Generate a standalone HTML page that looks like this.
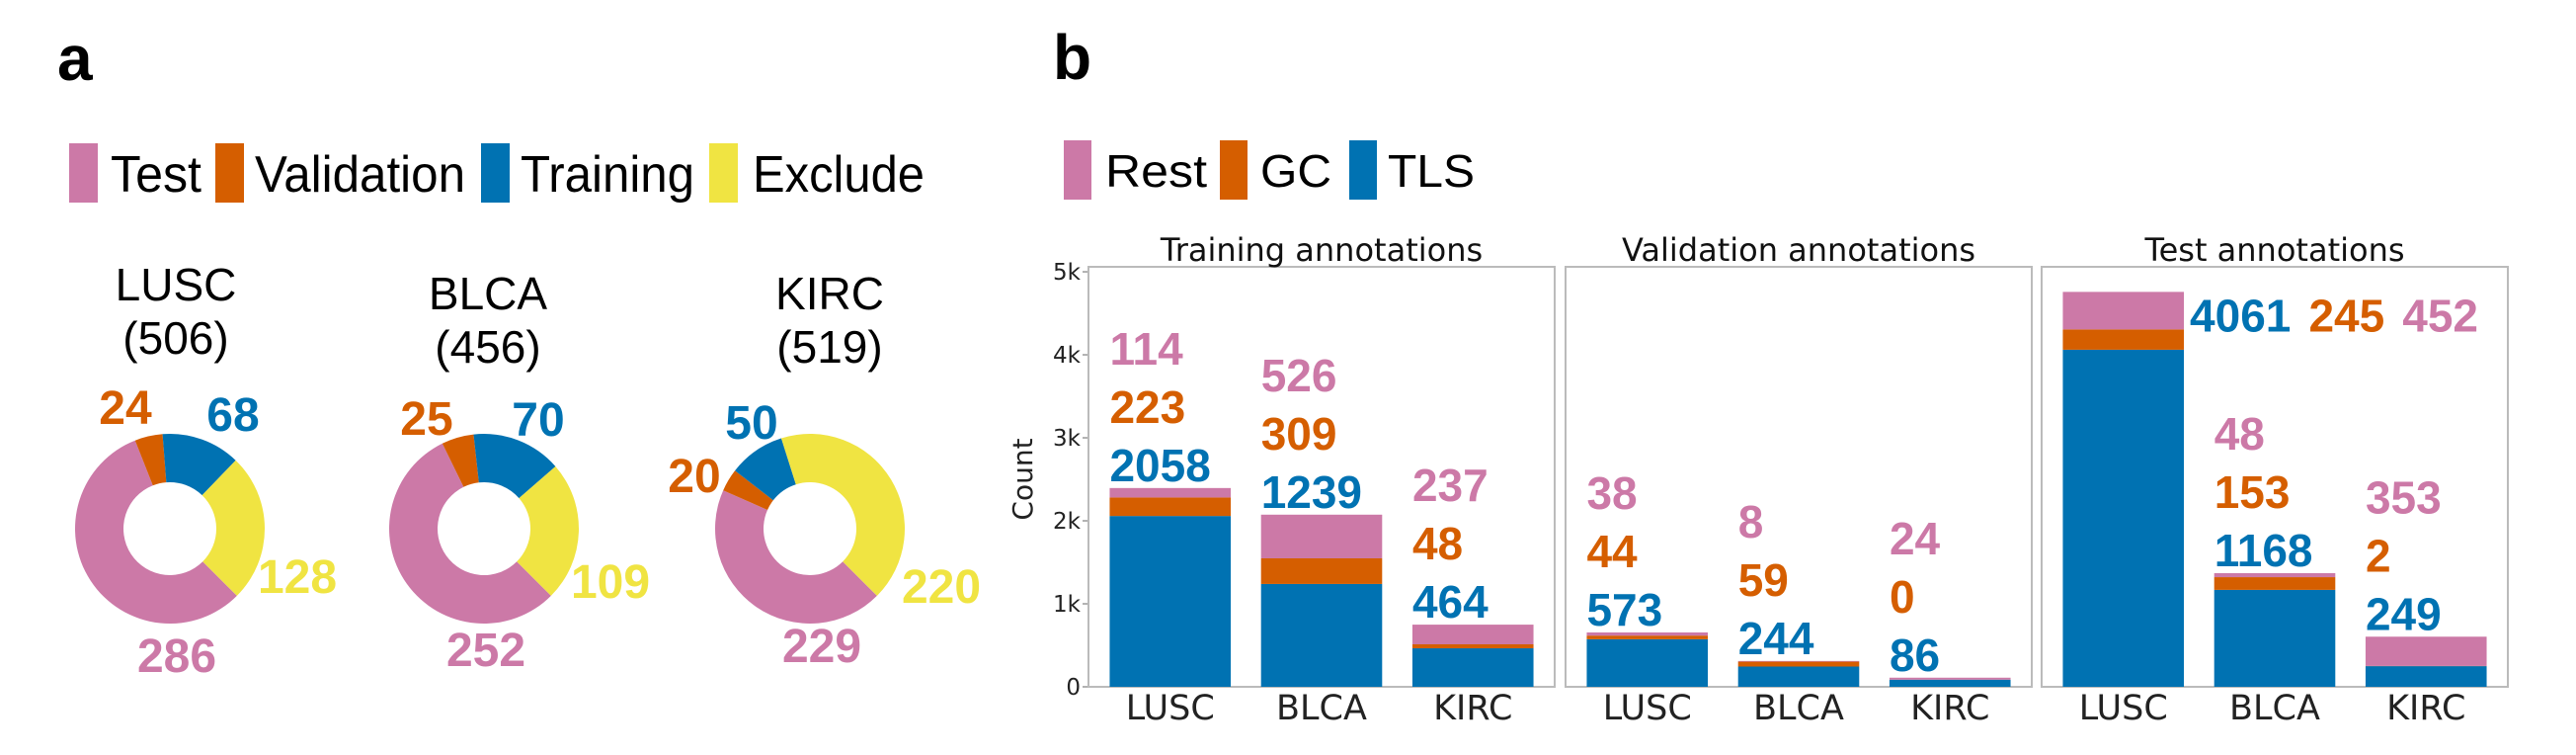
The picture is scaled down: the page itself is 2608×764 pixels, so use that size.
<!DOCTYPE html>
<html><head><meta charset="utf-8"><style>
html,body{margin:0;padding:0;background:#fff;}
svg{display:block;}
</style></head><body>
<svg id="fig" width="2608" height="764" viewBox="0 0 2608 764" xmlns="http://www.w3.org/2000/svg" font-family="Liberation Sans, Arial, sans-serif">
<text x="58" y="81" font-size="64" font-weight="bold">a</text>
<text x="1066" y="80" font-size="64" font-weight="bold">b</text>
<g id="legendA"></g>
<g id="legendB"></g>
<g id="donuts"></g>
<g id="bars"></g>
</svg>
<script>
const NS='http://www.w3.org/2000/svg';
const COLORS={pink:'#CC79A7',orange:'#D55E00',blue:'#0072B2',yellow:'#F0E442'};
// ---- donut data ----
const donutCohorts=['LUSC','BLCA','KIRC'];
const donutTotals=[506,456,519];
const donutTest=[286,252,229];
const donutValidation=[24,25,20];
const donutTraining=[68,70,50];
const donutExclude=[128,109,220];
// ---- bar data ----
const barGroups=['Training annotations','Validation annotations','Test annotations'];
const barCategories=['LUSC','BLCA','KIRC'];
const tlsValues=[[2058,1239,464],[573,244,86],[4061,1168,249]];
const gcValues=[[223,309,48],[44,59,0],[245,153,2]];
const restValues=[[114,526,237],[38,8,24],[452,48,353]];
const yTicks=[0,1000,2000,3000,4000,5000];
const yTickLabels=['0','1k','2k','3k','4k','5k'];

function mk(tag,attrs,parent,text){const e=document.createElementNS(NS,tag);for(const k in attrs)e.setAttribute(k,attrs[k]);if(text!==undefined)e.textContent=text;parent.appendChild(e);return e;}

// legends
const la=document.getElementById('legendA');
const legAItems=[['Test',COLORS.pink,70,112,92],['Validation',COLORS.orange,218,258,213],['Training',COLORS.blue,487,527,176],['Exclude',COLORS.yellow,718,762,174]];
legAItems.forEach(it=>{
  const r=mk('rect',{x:it[2],y:145,width:29,height:60,fill:it[1]},la);
  
  
  const t=mk('text',{x:it[3],y:194,'font-size':52,textLength:it[4],lengthAdjust:'spacingAndGlyphs'},la,it[0]);
  
  
});
const lb=document.getElementById('legendB');
const legBItems=[['Rest',COLORS.pink,1077,1119,103],['GC',COLORS.orange,1235,1276,72],['TLS',COLORS.blue,1366,1405,88]];
legBItems.forEach(it=>{
  const r=mk('rect',{x:it[2],y:142,width:28,height:60,fill:it[1]},lb);
  
  
  const t=mk('text',{x:it[3],y:189,'font-size':46,textLength:it[4],lengthAdjust:'spacingAndGlyphs'},lb,it[0]);
  
  
});

// donuts
const dg=document.getElementById('donuts');
const donutCx=[172,490,820], donutCy=535, R=96, r0=47, startDeg=135;
const titleX=[178,494,840], titleY=[304,313,313];
const labelPos=[ // [val,train,excl,test] label positions (layout)
 [[127,429],[236,436],[301,600],[179,680]],
 [[432,440],[545,441],[618,605],[492,674]],
 [[703,498],[761,444],[953,610],[832,670]]];
function pt(cx,cy,rad,deg){const a=deg*Math.PI/180;return [cx+rad*Math.sin(a),cy-rad*Math.cos(a)];}
donutCohorts.forEach((c,i)=>{
  const g=mk('g',{},dg);
  
  
  const t1=mk('text',{x:titleX[i],y:titleY[i],'font-size':46,'text-anchor':'middle'},g,c);
  
  
  const t2=mk('text',{x:titleX[i],y:titleY[i]+54,'font-size':46,'text-anchor':'middle'},g,'('+donutTotals[i]+')');
  
  
  const vals=[donutTest[i],donutValidation[i],donutTraining[i],donutExclude[i]];
  const cols=[COLORS.pink,COLORS.orange,COLORS.blue,COLORS.yellow];
  const names=['test','validation','training','exclude'];
  const sum=vals.reduce((a,b)=>a+b,0);
  let ang=startDeg;
  vals.forEach((v,k)=>{
    const sweep=v/sum*360, a1=ang+sweep;
    const p1=pt(donutCx[i],donutCy,R,ang),p2=pt(donutCx[i],donutCy,R,a1),p3=pt(donutCx[i],donutCy,r0,a1),p4=pt(donutCx[i],donutCy,r0,ang);
    const lg=sweep>180?1:0;
    const d=`M${p1[0]},${p1[1]} A${R},${R} 0 ${lg} 1 ${p2[0]},${p2[1]} L${p3[0]},${p3[1]} A${r0},${r0} 0 ${lg} 0 ${p4[0]},${p4[1]} Z`;
    const p=mk('path',{d:d,fill:cols[k]},g);
    
    
    ang=a1;
  });
  const order=[1,2,3,0];
  order.forEach((k,j)=>{
    const lp=labelPos[i][j];
    const t=mk('text',{x:lp[0],y:lp[1],'font-size':48,'font-weight':'bold','text-anchor':'middle',fill:cols[k]},g,vals[k]);
    
    
  });
});

// bars
const bg=document.getElementById('bars');
const panelX=[1102,1585,2067], panelW=472, yTop=270, yBot=695, yMax=5060;
function yS(v){return yBot-(v/yMax)*(yBot-yTop);}
const unit=panelW/3.08;
function xS(p,i){return panelX[p]+(i+0.54)*unit;}
const bw=0.8*unit;
const tickFont='DejaVu Sans, Liberation Sans, sans-serif';
// y axis
yTicks.forEach((v,k)=>{
  mk('line',{x1:panelX[0]-6,x2:panelX[0],y1:yS(v),y2:yS(v),stroke:'#999','stroke-width':1.5},bg);
  const t=mk('text',{x:panelX[0]-8,y:yS(v)+8,'font-size':23,'text-anchor':'end','font-family':tickFont,fill:'#222'},bg,yTickLabels[k]);
  
  
});
const yt=mk('text',{x:0,y:0,'font-size':28,'text-anchor':'middle','font-family':tickFont,fill:'#222',transform:'translate(1045,485) rotate(-90)'},bg,'Count');


barGroups.forEach((gname,p)=>{
  const g=mk('g',{},bg);
  
  
  const fr=mk('rect',{x:panelX[p],y:yTop,width:panelW,height:yBot-yTop,fill:'none',stroke:'#bbb','stroke-width':2},g);
  
  
  const tt=mk('text',{x:panelX[p]+panelW/2,y:yTop-6,'font-size':32,'text-anchor':'middle','font-family':tickFont,fill:'#111'},g,gname);
  
  
  barCategories.forEach((cat,i)=>{
    const segs=[[tlsValues[p][i],COLORS.blue,'tls'],[gcValues[p][i],COLORS.orange,'gc'],[restValues[p][i],COLORS.pink,'rest']];
    let base=0;const x0=xS(p,i)-bw/2;
    segs.forEach(s=>{
      const y1=yS(base+s[0]),y0=yS(base);
      const rr=mk('rect',{x:x0,y:y1,width:bw,height:Math.max(0,y0-y1),fill:s[1]},g);
      
      
      base+=s[0];
    });
    const top=yS(base);
    const xt=mk('text',{x:xS(p,i),y:yBot+33,'font-size':35,'text-anchor':'middle','font-family':tickFont,fill:'#222'},g,cat);
    
    
    if(top<yTop+120){
      let xx=x0+bw+6;
      segs.forEach(s=>{
        const t=mk('text',{x:xx,y:top+40,'font-size':46,'font-weight':'bold',fill:s[1]},g,s[0]);
        
        
        xx+=String(s[0]).length*25.6+18;
      });
    } else {
      segs.forEach((s,k)=>{
        const t=mk('text',{x:x0,y:top-7-k*59,'font-size':46,'font-weight':'bold',fill:s[1]},g,s[0]);
        
        
      });
    }
  });
});
</script>
</body></html>
